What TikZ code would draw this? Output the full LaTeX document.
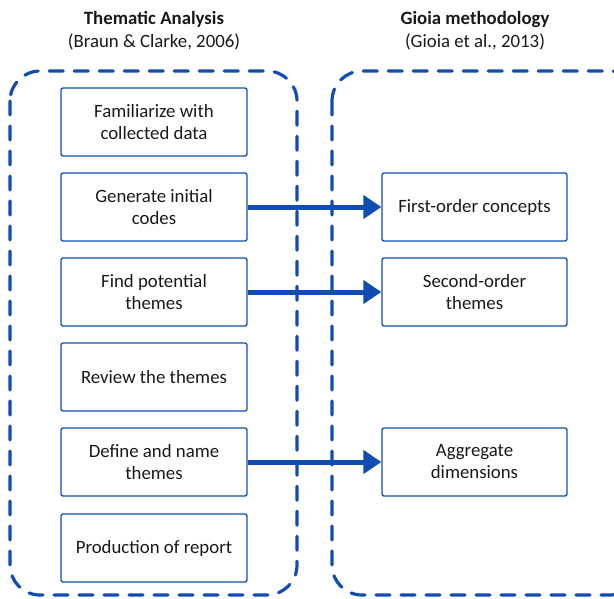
\documentclass[tikz,border=0pt]{standalone}
\usepackage{fontspec}
\setmainfont{Carlito}
\usetikzlibrary{arrows.meta}
\definecolor{mblue}{RGB}{16,76,178}
\definecolor{txt}{RGB}{25,25,25}
\tikzset{
  stepbox/.style={draw=mblue, line width=1.3pt, rounded corners=2pt, minimum width=186pt, minimum height=68pt, align=center, text=txt, font=\fontsize{18.8}{22}\selectfont, inner sep=0pt},
  container/.style={draw=mblue, line width=3.2pt, rounded corners=30pt, dash pattern=on 14pt off 11pt, line cap=round},
  flow/.style={draw=mblue, line width=5pt, -{Triangle[length=18pt,width=23pt]}},
  title/.style={align=center, text=txt, font=\fontsize{18.8}{23}\selectfont}
}
\begin{document}
\begin{tikzpicture}[x=1pt,y=-1pt]
\useasboundingbox (0,0) rectangle (614,598);
\clip (0,0) rectangle (614,598);
\draw[container] (10,71) rectangle (297,595);
\draw[container] (332,71) rectangle (640,595);
\node[title] (t1) at (154,31) {\textbf{Thematic Analysis}\\(Braun \& Clarke, 2006)};
\node[title] (t2) at (475,31) {\textbf{Gioia methodology}\\(Gioia et al., 2013)};
\node[stepbox] (a1) at (154,122) {Familiarize with\\collected data};
\node[stepbox] (a2) at (154,207) {Generate initial\\codes};
\node[stepbox] (a3) at (154,292) {Find potential\\themes};
\node[stepbox] (a4) at (154,377) {Review the themes};
\node[stepbox] (a5) at (154,462) {Define and name\\themes};
\node[stepbox] (a6) at (154,548) {Production of report};
\node[stepbox, minimum width=185pt] (b1) at (474.5,207) {First-order concepts};
\node[stepbox, minimum width=185pt] (b2) at (474.5,292) {Second-order\\themes};
\node[stepbox, minimum width=185pt] (b3) at (474.5,462) {Aggregate\\dimensions};
\draw[flow] (a2.east) -- (b1.west);
\draw[flow] (a3.east) -- (b2.west);
\draw[flow] (a5.east) -- (b3.west);
\end{tikzpicture}
\end{document}
